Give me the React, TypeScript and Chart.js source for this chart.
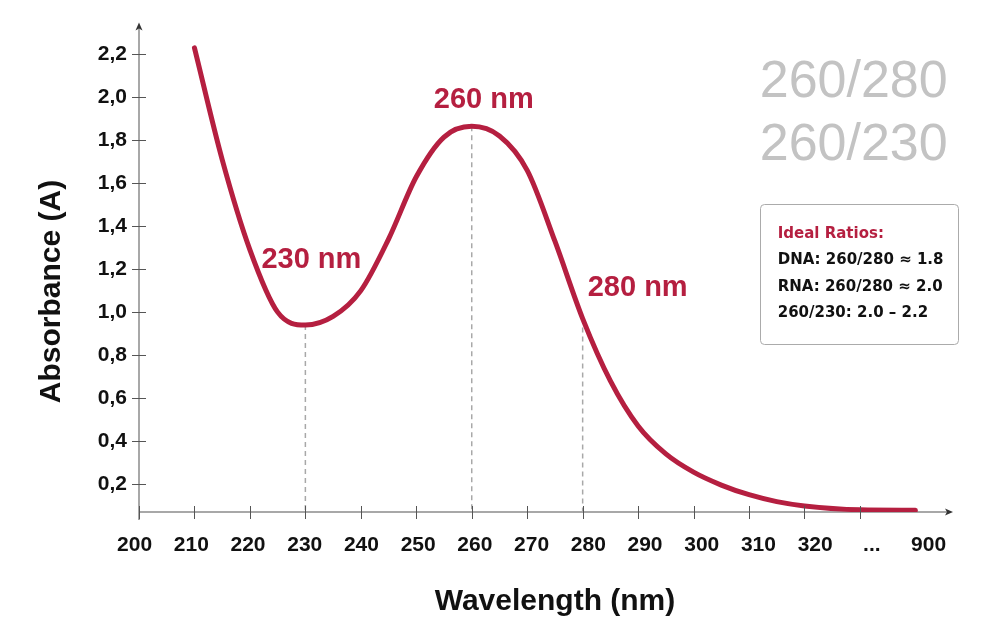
import { useEffect, useRef } from 'react';
import { Chart, registerables } from 'chart.js';

Chart.register(...registerables);

// Wavelength axis tick labels (the axis is broken after 320 nm)
const xTickLabels = ['200', '210', '220', '230', '240', '250', '260', '270', '280', '290', '300', '310', '320', '...', '900'];
// Absorbance axis ticks
const yTickValues = [0.2, 0.4, 0.6, 0.8, 1.0, 1.2, 1.4, 1.6, 1.8, 2.0, 2.2];

// Nucleic-acid absorbance spectrum sampled every 5 nm, 210-320 nm
const wavelengthNm = [210, 215, 220, 225, 230, 235, 240, 245, 250, 255, 260, 265, 270, 275, 280, 285, 290, 295, 300, 305, 310, 315, 320];
const absorbance = [2.23, 1.71, 1.29, 1.0, 0.94, 0.98, 1.1, 1.34, 1.63, 1.815, 1.865, 1.82, 1.66, 1.33, 0.97, 0.68, 0.47, 0.34, 0.255, 0.195, 0.15, 0.118, 0.098];
// Flat tail past the axis break, sitting on the '...' and '900' ticks
const tailTicks = ['...', '900'];
const tailAbsorbance = [0.08, 0.078];

// Wavelengths called out with dashed drop lines
const markerWavelengths = [230, 260, 280];

const ratioHeadings = ['260/280', '260/230'];
const idealRatiosTitle = 'Ideal Ratios:';
const idealRatioLines = ['DNA: 260/280 \u2248 1.8', 'RNA: 260/280 \u2248 2.0', '260/230: 2.0 \u2013 2.2'];

const CRIMSON = '#b51f40';
const SANS = '"Liberation Sans", Arial, sans-serif';
const BOX_FONT = '"DejaVu Sans", sans-serif';

// Offsets (px) of the "xxx nm" labels from their point on the curve
const markerLabelOffsets = [
  [6, -57],
  [12, -18],
  [55, -23],
];

const Y_MIN = 0.0696;
const Y_MAX = 2.3385;
const X_MAX = 14.66;

const axisPos = (nm: number) => (nm - 200) / 10;
const valueAt = (nm: number) => absorbance[wavelengthNm.indexOf(nm)];

const spectrumPoints = [
  ...wavelengthNm.map((nm, i) => ({ x: axisPos(nm), y: absorbance[i] })),
  ...tailTicks.map((t, i) => ({ x: xTickLabels.indexOf(t), y: tailAbsorbance[i] })),
];

const axesPlugin = {
  id: 'spectrumAxes',
  beforeDatasetsDraw(chart: any) {
    const { ctx, chartArea, scales } = chart;
    const x0 = scales.x.getPixelForValue(0);
    const yb = scales.y.getPixelForValue(Y_MIN);
    ctx.save();
    ctx.strokeStyle = '#8c8c8c';
    ctx.lineWidth = 1.5;
    ctx.beginPath();
    ctx.moveTo(x0, yb);
    ctx.lineTo(chartArea.right - 4, yb);
    ctx.moveTo(x0, yb + 8);
    ctx.lineTo(x0, chartArea.top + 4);
    ctx.stroke();
    ctx.restore();
  },
  afterDatasetsDraw(chart: any) {
    const { ctx, chartArea, scales } = chart;
    const xs = scales.x;
    const ys = scales.y;
    const x0 = xs.getPixelForValue(0);
    const yb = ys.getPixelForValue(Y_MIN);

    ctx.save();
    // tick marks crossing the axes
    ctx.strokeStyle = '#555';
    ctx.lineWidth = 1;
    ctx.beginPath();
    xTickLabels.slice(0, -1).forEach((_, i) => {
      const px = Math.round(xs.getPixelForValue(i)) + 0.5;
      ctx.moveTo(px, yb - 6);
      ctx.lineTo(px, yb + 7);
    });
    yTickValues.forEach((v) => {
      const py = Math.round(ys.getPixelForValue(v)) + 0.5;
      ctx.moveTo(x0 - 7, py);
      ctx.lineTo(x0 + 7, py);
    });
    ctx.stroke();

    // arrow heads
    ctx.fillStyle = '#333';
    ctx.beginPath();
    ctx.moveTo(chartArea.right + 1, yb);
    ctx.lineTo(chartArea.right - 7, yb - 3.5);
    ctx.lineTo(chartArea.right - 5, yb);
    ctx.lineTo(chartArea.right - 7, yb + 3.5);
    ctx.closePath();
    ctx.fill();
    ctx.beginPath();
    ctx.moveTo(x0, chartArea.top - 2);
    ctx.lineTo(x0 - 3.5, chartArea.top + 6);
    ctx.lineTo(x0, chartArea.top + 4);
    ctx.lineTo(x0 + 3.5, chartArea.top + 6);
    ctx.closePath();
    ctx.fill();

    // wavelength call-outs
    ctx.fillStyle = CRIMSON;
    ctx.font = `bold 29px ${SANS}`;
    ctx.textAlign = 'center';
    ctx.textBaseline = 'alphabetic';
    markerWavelengths.forEach((nm, i) => {
      const px = xs.getPixelForValue(axisPos(nm));
      const py = ys.getPixelForValue(valueAt(nm));
      const [dx, dy] = markerLabelOffsets[i];
      ctx.fillText(`${nm} nm`, px + dx, py + dy);
    });

    // axis titles
    ctx.fillStyle = '#111';
    ctx.font = `bold 30px ${SANS}`;
    ctx.fillText('Wavelength (nm)', 555, 610);
    ctx.save();
    ctx.translate(60, 291.5);
    ctx.rotate(-Math.PI / 2);
    ctx.fillText('Absorbance (A)', 0, 0);
    ctx.restore();

    // large ratio headings
    ctx.fillStyle = '#c3c3c3';
    ctx.font = `52px ${SANS}`;
    ratioHeadings.forEach((t, i) => ctx.fillText(t, 853.7, 96.7 + i * 63.3));

    // ideal ratios box
    ctx.beginPath();
    ctx.roundRect(760.5, 204.5, 198, 140, 4);
    ctx.fillStyle = '#fff';
    ctx.fill();
    ctx.strokeStyle = '#ababab';
    ctx.lineWidth = 1;
    ctx.stroke();
    ctx.textAlign = 'left';
    ctx.font = `bold 15px ${BOX_FONT}`;
    ctx.fillStyle = CRIMSON;
    ctx.fillText(idealRatiosTitle, 777.7, 238.3);
    ctx.fillStyle = '#111';
    idealRatioLines.forEach((t, i) => ctx.fillText(t, 777.7, 264 + i * 26.5));
    ctx.restore();
  },
};

export default function App() {
  const ref = useRef<HTMLCanvasElement>(null);

  useEffect(() => {
    if (!ref.current) return;
    const dropLines = markerWavelengths.map((nm) => ({
      data: [
        { x: axisPos(nm), y: valueAt(nm) },
        { x: axisPos(nm), y: Y_MIN },
      ],
      borderColor: '#a8a8a8',
      borderWidth: 1.5,
      borderDash: [5, 4],
      pointRadius: 0,
      fill: false,
    }));
    const chart = new Chart(ref.current, {
      type: 'line',
      data: {
        datasets: [
          {
            data: spectrumPoints,
            borderColor: CRIMSON,
            borderWidth: 5,
            pointRadius: 0,
            cubicInterpolationMode: 'monotone',
            borderCapStyle: 'round',
            borderJoinStyle: 'round',
            fill: false,
          } as any,
          ...dropLines,
        ],
      },
      options: {
        responsive: false,
        devicePixelRatio: 1,
        animation: false,
        layout: { padding: { left: 0, top: 20, right: 48, bottom: 0 } },
        plugins: { legend: { display: false }, tooltip: { enabled: false } },
        scales: {
          x: { type: 'linear', min: 0, max: X_MAX, display: false },
          xLabels: {
            type: 'linear',
            position: 'bottom',
            min: 0.0776,
            max: 14.413,
            afterBuildTicks: (s: any) => {
              s.ticks = xTickLabels.map((_, i) => ({ value: i }));
            },
            afterFit: (s: any) => {
              s.height = 113;
            },
            grid: { display: false, drawTicks: false },
            border: { display: false },
            ticks: {
              autoSkip: false,
              maxRotation: 0,
              padding: 21,
              color: '#111',
              font: { family: SANS, size: 21, weight: 'bold' },
              callback: (_v: any, i: number) => xTickLabels[i],
            },
          },
          y: {
            type: 'linear',
            min: Y_MIN,
            max: Y_MAX,
            afterBuildTicks: (s: any) => {
              s.ticks = yTickValues.map((v) => ({ value: v }));
            },
            afterFit: (s: any) => {
              s.width = 139;
            },
            grid: { display: false, drawTicks: false },
            border: { display: false },
            ticks: {
              padding: 12,
              color: '#111',
              font: { family: SANS, size: 21, weight: 'bold' },
              callback: (v: any) => Number(v).toFixed(1).replace('.', ','),
            },
          },
        },
      } as any,
      plugins: [axesPlugin],
    });
    return () => chart.destroy();
  }, []);

  return (
    <div style={{ position: 'absolute', left: 0, top: 0, width: 1000, height: 625, background: '#fff' }}>
      <canvas ref={ref} width={1000} height={625} style={{ display: 'block' }} />
    </div>
  );
}
